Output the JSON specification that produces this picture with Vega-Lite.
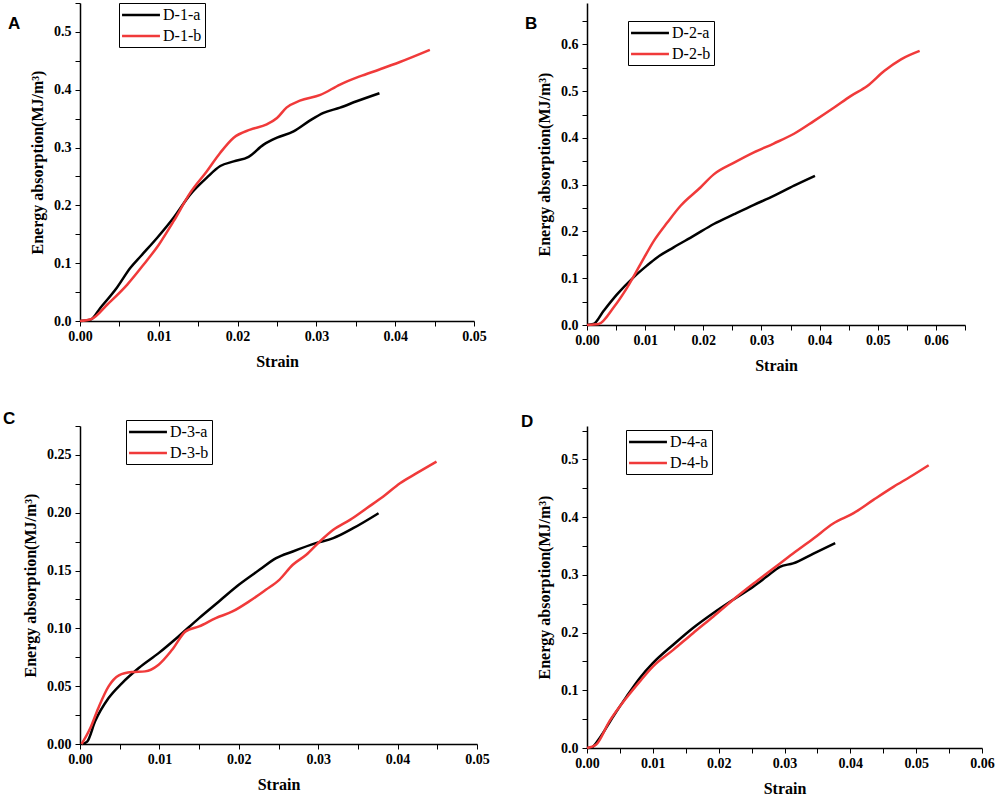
{
  "$schema": "https://vega.github.io/schema/vega-lite/v6.json",
  "padding": {"left": 3, "top": 2, "right": 5, "bottom": 2},
  "background": "white",
  "columns": 2,
  "spacing": {"row": 101, "column": 110},
  "bounds": "flush",
  "resolve": {"scale": {"color": "independent", "x": "independent", "y": "independent"}, "legend": {"color": "independent"}},
  "config": {
    "view": {"stroke": null},
    "axis": {"grid": false, "domainColor": "#000", "domainWidth": 1.5, "tickColor": "#000", "tickWidth": 1, "tickSize": 5,
      "labelFont": "Liberation Serif", "labelFontSize": 14, "labelFontWeight": "bold", "labelColor": "#000",
      "labelFlush": false, "labelOverlap": false, "labelBound": false,
      "titleFont": "Liberation Serif", "titleFontSize": 16, "titleFontWeight": "bold", "titleColor": "#000"},
    "axisX": {"labelPadding": 3, "titlePadding": 10},
    "axisY": {"labelPadding": 4, "titlePadding": 8},
    "legend": {"orient": "none", "strokeColor": "#000", "fillColor": "#fff", "padding": 3, "symbolType": "M-2.5,0H2.5", "symbolSize": 230, "symbolStrokeWidth": 2.5, "symbolOffset": 10, "labelOffset": 13, "labelFont": "Liberation Serif", "labelFontSize": 16, "labelColor": "#000", "rowPadding": 4, "title": null},
    "title": {"font": "Liberation Sans", "fontSize": 17, "fontWeight": "bold", "color": "#000", "anchor": "start", "frame": "group", "offset": 0, "baseline": "top"},
    "line": {"strokeWidth": 2.5, "interpolate": "monotone"}
  },
  "datasets": {
    "A": [
      {"s": "D-1-a", "x": 0, "y": 0}, {"s": "D-1-a", "x": 0.0013, "y": 0.002}, {"s": "D-1-a", "x": 0.0026, "y": 0.023}, {"s": "D-1-a", "x": 0.0047, "y": 0.058}, {"s": "D-1-a", "x": 0.0064, "y": 0.092}, {"s": "D-1-a", "x": 0.0077, "y": 0.112}, {"s": "D-1-a", "x": 0.0098, "y": 0.144}, {"s": "D-1-a", "x": 0.0119, "y": 0.179}, {"s": "D-1-a", "x": 0.014, "y": 0.219}, {"s": "D-1-a", "x": 0.0161, "y": 0.248}, {"s": "D-1-a", "x": 0.0178, "y": 0.268}, {"s": "D-1-a", "x": 0.0195, "y": 0.276}, {"s": "D-1-a", "x": 0.0214, "y": 0.284}, {"s": "D-1-a", "x": 0.0233, "y": 0.305}, {"s": "D-1-a", "x": 0.025, "y": 0.317}, {"s": "D-1-a", "x": 0.0271, "y": 0.328}, {"s": "D-1-a", "x": 0.0292, "y": 0.347}, {"s": "D-1-a", "x": 0.0309, "y": 0.36}, {"s": "D-1-a", "x": 0.033, "y": 0.369}, {"s": "D-1-a", "x": 0.0351, "y": 0.38}, {"s": "D-1-a", "x": 0.038, "y": 0.394},
      {"s": "D-1-b", "x": 0, "y": 0}, {"s": "D-1-b", "x": 0.0014, "y": 0.003}, {"s": "D-1-b", "x": 0.0035, "y": 0.029}, {"s": "D-1-b", "x": 0.006, "y": 0.063}, {"s": "D-1-b", "x": 0.0081, "y": 0.098}, {"s": "D-1-b", "x": 0.01, "y": 0.132}, {"s": "D-1-b", "x": 0.0119, "y": 0.173}, {"s": "D-1-b", "x": 0.014, "y": 0.222}, {"s": "D-1-b", "x": 0.0161, "y": 0.259}, {"s": "D-1-b", "x": 0.0178, "y": 0.291}, {"s": "D-1-b", "x": 0.0195, "y": 0.317}, {"s": "D-1-b", "x": 0.0216, "y": 0.331}, {"s": "D-1-b", "x": 0.0237, "y": 0.34}, {"s": "D-1-b", "x": 0.025, "y": 0.351}, {"s": "D-1-b", "x": 0.0262, "y": 0.369}, {"s": "D-1-b", "x": 0.0279, "y": 0.381}, {"s": "D-1-b", "x": 0.0305, "y": 0.391}, {"s": "D-1-b", "x": 0.033, "y": 0.409}, {"s": "D-1-b", "x": 0.0355, "y": 0.423}, {"s": "D-1-b", "x": 0.038, "y": 0.435}, {"s": "D-1-b", "x": 0.0406, "y": 0.448}, {"s": "D-1-b", "x": 0.0444, "y": 0.469}
    ],
    "B": [
      {"s": "D-2-a", "x": 0, "y": 0}, {"s": "D-2-a", "x": 0.0011, "y": 0.002}, {"s": "D-2-a", "x": 0.0029, "y": 0.031}, {"s": "D-2-a", "x": 0.0052, "y": 0.066}, {"s": "D-2-a", "x": 0.008, "y": 0.102}, {"s": "D-2-a", "x": 0.0103, "y": 0.127}, {"s": "D-2-a", "x": 0.012, "y": 0.144}, {"s": "D-2-a", "x": 0.0149, "y": 0.166}, {"s": "D-2-a", "x": 0.0184, "y": 0.191}, {"s": "D-2-a", "x": 0.0218, "y": 0.216}, {"s": "D-2-a", "x": 0.0253, "y": 0.237}, {"s": "D-2-a", "x": 0.0287, "y": 0.257}, {"s": "D-2-a", "x": 0.0321, "y": 0.276}, {"s": "D-2-a", "x": 0.0356, "y": 0.298}, {"s": "D-2-a", "x": 0.0392, "y": 0.319},
      {"s": "D-2-b", "x": 0, "y": 0}, {"s": "D-2-b", "x": 0.002, "y": 0.002}, {"s": "D-2-b", "x": 0.0046, "y": 0.038}, {"s": "D-2-b", "x": 0.0069, "y": 0.08}, {"s": "D-2-b", "x": 0.0092, "y": 0.13}, {"s": "D-2-b", "x": 0.0115, "y": 0.18}, {"s": "D-2-b", "x": 0.0138, "y": 0.219}, {"s": "D-2-b", "x": 0.0161, "y": 0.255}, {"s": "D-2-b", "x": 0.0195, "y": 0.294}, {"s": "D-2-b", "x": 0.0218, "y": 0.322}, {"s": "D-2-b", "x": 0.0253, "y": 0.347}, {"s": "D-2-b", "x": 0.0287, "y": 0.369}, {"s": "D-2-b", "x": 0.0321, "y": 0.388}, {"s": "D-2-b", "x": 0.0356, "y": 0.409}, {"s": "D-2-b", "x": 0.039, "y": 0.436}, {"s": "D-2-b", "x": 0.0425, "y": 0.465}, {"s": "D-2-b", "x": 0.0454, "y": 0.49}, {"s": "D-2-b", "x": 0.0482, "y": 0.511}, {"s": "D-2-b", "x": 0.0511, "y": 0.543}, {"s": "D-2-b", "x": 0.054, "y": 0.568}, {"s": "D-2-b", "x": 0.0572, "y": 0.586}
    ],
    "C": [
      {"s": "D-3-a", "x": 0.0003, "y": 0}, {"s": "D-3-a", "x": 0.0009, "y": 0.002}, {"s": "D-3-a", "x": 0.0019, "y": 0.0196}, {"s": "D-3-a", "x": 0.0036, "y": 0.0397}, {"s": "D-3-a", "x": 0.0053, "y": 0.0527}, {"s": "D-3-a", "x": 0.0074, "y": 0.0657}, {"s": "D-3-a", "x": 0.0099, "y": 0.0786}, {"s": "D-3-a", "x": 0.0124, "y": 0.093}, {"s": "D-3-a", "x": 0.015, "y": 0.1089}, {"s": "D-3-a", "x": 0.0175, "y": 0.1233}, {"s": "D-3-a", "x": 0.02, "y": 0.1377}, {"s": "D-3-a", "x": 0.0226, "y": 0.1506}, {"s": "D-3-a", "x": 0.0247, "y": 0.1607}, {"s": "D-3-a", "x": 0.0268, "y": 0.1665}, {"s": "D-3-a", "x": 0.0297, "y": 0.1737}, {"s": "D-3-a", "x": 0.0319, "y": 0.178}, {"s": "D-3-a", "x": 0.0344, "y": 0.1866}, {"s": "D-3-a", "x": 0.0376, "y": 0.1996},
      {"s": "D-3-b", "x": 0.0002, "y": 0}, {"s": "D-3-b", "x": 0.0013, "y": 0.0138}, {"s": "D-3-b", "x": 0.0023, "y": 0.031}, {"s": "D-3-b", "x": 0.0036, "y": 0.0498}, {"s": "D-3-b", "x": 0.0049, "y": 0.0593}, {"s": "D-3-b", "x": 0.0065, "y": 0.0622}, {"s": "D-3-b", "x": 0.0082, "y": 0.0628}, {"s": "D-3-b", "x": 0.0099, "y": 0.0686}, {"s": "D-3-b", "x": 0.0116, "y": 0.0815}, {"s": "D-3-b", "x": 0.0133, "y": 0.0974}, {"s": "D-3-b", "x": 0.015, "y": 0.1017}, {"s": "D-3-b", "x": 0.0171, "y": 0.1089}, {"s": "D-3-b", "x": 0.0192, "y": 0.1146}, {"s": "D-3-b", "x": 0.0213, "y": 0.1233}, {"s": "D-3-b", "x": 0.0234, "y": 0.1334}, {"s": "D-3-b", "x": 0.0251, "y": 0.142}, {"s": "D-3-b", "x": 0.0268, "y": 0.155}, {"s": "D-3-b", "x": 0.0285, "y": 0.1636}, {"s": "D-3-b", "x": 0.0302, "y": 0.1751}, {"s": "D-3-b", "x": 0.0319, "y": 0.1852}, {"s": "D-3-b", "x": 0.034, "y": 0.1938}, {"s": "D-3-b", "x": 0.0361, "y": 0.2039}, {"s": "D-3-b", "x": 0.0382, "y": 0.214}, {"s": "D-3-b", "x": 0.0403, "y": 0.2255}, {"s": "D-3-b", "x": 0.0424, "y": 0.2342}, {"s": "D-3-b", "x": 0.0449, "y": 0.2442}
    ],
    "D": [
      {"s": "D-4-a", "x": 0, "y": 0}, {"s": "D-4-a", "x": 0.0007, "y": 0.001}, {"s": "D-4-a", "x": 0.0019, "y": 0.017}, {"s": "D-4-a", "x": 0.004, "y": 0.055}, {"s": "D-4-a", "x": 0.006, "y": 0.089}, {"s": "D-4-a", "x": 0.008, "y": 0.121}, {"s": "D-4-a", "x": 0.01, "y": 0.147}, {"s": "D-4-a", "x": 0.0131, "y": 0.179}, {"s": "D-4-a", "x": 0.0161, "y": 0.208}, {"s": "D-4-a", "x": 0.0192, "y": 0.234}, {"s": "D-4-a", "x": 0.0222, "y": 0.257}, {"s": "D-4-a", "x": 0.0253, "y": 0.28}, {"s": "D-4-a", "x": 0.0273, "y": 0.297}, {"s": "D-4-a", "x": 0.0293, "y": 0.314}, {"s": "D-4-a", "x": 0.0313, "y": 0.32}, {"s": "D-4-a", "x": 0.0344, "y": 0.337}, {"s": "D-4-a", "x": 0.0377, "y": 0.355},
      {"s": "D-4-b", "x": 0, "y": 0}, {"s": "D-4-b", "x": 0.0014, "y": 0.006}, {"s": "D-4-b", "x": 0.0034, "y": 0.046}, {"s": "D-4-b", "x": 0.006, "y": 0.087}, {"s": "D-4-b", "x": 0.008, "y": 0.115}, {"s": "D-4-b", "x": 0.01, "y": 0.141}, {"s": "D-4-b", "x": 0.0131, "y": 0.17}, {"s": "D-4-b", "x": 0.0161, "y": 0.199}, {"s": "D-4-b", "x": 0.0192, "y": 0.228}, {"s": "D-4-b", "x": 0.0222, "y": 0.257}, {"s": "D-4-b", "x": 0.0253, "y": 0.285}, {"s": "D-4-b", "x": 0.0283, "y": 0.311}, {"s": "D-4-b", "x": 0.0313, "y": 0.337}, {"s": "D-4-b", "x": 0.0344, "y": 0.363}, {"s": "D-4-b", "x": 0.0374, "y": 0.389}, {"s": "D-4-b", "x": 0.0405, "y": 0.407}, {"s": "D-4-b", "x": 0.0435, "y": 0.43}, {"s": "D-4-b", "x": 0.0466, "y": 0.453}, {"s": "D-4-b", "x": 0.0491, "y": 0.47}, {"s": "D-4-b", "x": 0.0519, "y": 0.49}
    ]
  },
  "concat": [
    {
      "data": {"name": "A"}, "width": 394, "height": 318,
      "title": {"text": "A", "dx": -72, "dy": 34},
      "mark": "line",
      "encoding": {
        "x": {"field": "x", "type": "quantitative", "title": "Strain", "scale": {"domain": [0, 0.05], "nice": false},
          "axis": {"values": [0, 0.005, 0.01, 0.015, 0.02, 0.025, 0.03, 0.035, 0.04, 0.045, 0.05], "labelExpr": "round(datum.value*1000) % 10 == 0 ? format(datum.value, '.2f') : ''"}},
        "y": {"field": "y", "type": "quantitative", "title": "Energy absorption(MJ/m³)", "scale": {"domain": [0, 0.55], "nice": false},
          "axis": {"values": [0, 0.05, 0.1, 0.15, 0.2, 0.25, 0.3, 0.35, 0.4, 0.45, 0.5, 0.55], "labelExpr": "round(datum.value*100) % 10 == 0 ? format(datum.value, '.1f') : ''", "labelBaseline": {"condition": {"test": "round(datum.value*100) % 10 != 0", "value": "top"}, "value": "middle"}}},
        "color": {"field": "s", "type": "nominal", "scale": {"range": ["#000000", "#f03a3a"]}, "legend": {"legendX": 39, "legendY": 0}}
      }
    },
    {
      "data": {"name": "B"}, "width": 378, "height": 322,
      "title": {"text": "B", "dx": -62, "dy": 34},
      "mark": "line",
      "encoding": {
        "x": {"field": "x", "type": "quantitative", "title": "Strain", "scale": {"domain": [0, 0.065], "nice": false},
          "axis": {"values": [0, 0.005, 0.01, 0.015, 0.02, 0.025, 0.03, 0.035, 0.04, 0.045, 0.05, 0.055, 0.06, 0.065], "labelExpr": "round(datum.value*1000) % 10 == 0 ? format(datum.value, '.2f') : ''"}},
        "y": {"field": "y", "type": "quantitative", "title": "Energy absorption(MJ/m³)", "scale": {"domain": [0, 0.6885], "nice": false},
          "axis": {"values": [0, 0.05, 0.1, 0.15, 0.2, 0.25, 0.3, 0.35, 0.4, 0.45, 0.5, 0.55, 0.6, 0.65], "labelExpr": "round(datum.value*100) % 10 == 0 ? format(datum.value, '.1f') : ''", "labelBaseline": {"condition": {"test": "round(datum.value*100) % 10 != 0", "value": "top"}, "value": "middle"}}},
        "color": {"field": "s", "type": "nominal", "scale": {"range": ["#000000", "#f03a3a"]}, "legend": {"legendX": 41, "legendY": 18}}
      }
    },
    {
      "data": {"name": "C"}, "width": 397, "height": 318,
      "title": {"text": "C", "dx": -77, "dy": 12},
      "mark": "line",
      "encoding": {
        "x": {"field": "x", "type": "quantitative", "title": "Strain", "scale": {"domain": [0, 0.05], "nice": false},
          "axis": {"values": [0, 0.005, 0.01, 0.015, 0.02, 0.025, 0.03, 0.035, 0.04, 0.045, 0.05], "labelExpr": "round(datum.value*1000) % 10 == 0 ? format(datum.value, '.2f') : ''"}},
        "y": {"field": "y", "type": "quantitative", "title": "Energy absorption(MJ/m³)", "scale": {"domain": [0, 0.275], "nice": false},
          "axis": {"values": [0, 0.025, 0.05, 0.075, 0.1, 0.125, 0.15, 0.175, 0.2, 0.225, 0.25, 0.275], "labelExpr": "round(datum.value*1000) % 50 == 0 ? format(datum.value, '.2f') : ''", "labelBaseline": {"condition": {"test": "round(datum.value*1000) % 50 != 0", "value": "top"}, "value": "middle"}}},
        "color": {"field": "s", "type": "nominal", "scale": {"range": ["#000000", "#f03a3a"]}, "legend": {"legendX": 46, "legendY": -6}}
      }
    },
    {
      "data": {"name": "D"}, "width": 395, "height": 322,
      "title": {"text": "D", "dx": -66, "dy": 9},
      "mark": "line",
      "encoding": {
        "x": {"field": "x", "type": "quantitative", "title": "Strain", "scale": {"domain": [0, 0.06], "nice": false},
          "axis": {"values": [0, 0.005, 0.01, 0.015, 0.02, 0.025, 0.03, 0.035, 0.04, 0.045, 0.05, 0.055, 0.06], "labelExpr": "round(datum.value*1000) % 10 == 0 ? format(datum.value, '.2f') : ''"}},
        "y": {"field": "y", "type": "quantitative", "title": "Energy absorption(MJ/m³)", "scale": {"domain": [0, 0.558], "nice": false},
          "axis": {"values": [0, 0.05, 0.1, 0.15, 0.2, 0.25, 0.3, 0.35, 0.4, 0.45, 0.5, 0.55], "labelExpr": "round(datum.value*100) % 10 == 0 ? format(datum.value, '.1f') : ''", "labelBaseline": {"condition": {"test": "round(datum.value*100) % 10 != 0", "value": "top"}, "value": "middle"}}},
        "color": {"field": "s", "type": "nominal", "scale": {"range": ["#000000", "#f03a3a"]}, "legend": {"legendX": 39, "legendY": 4}}
      }
    }
  ]
}
